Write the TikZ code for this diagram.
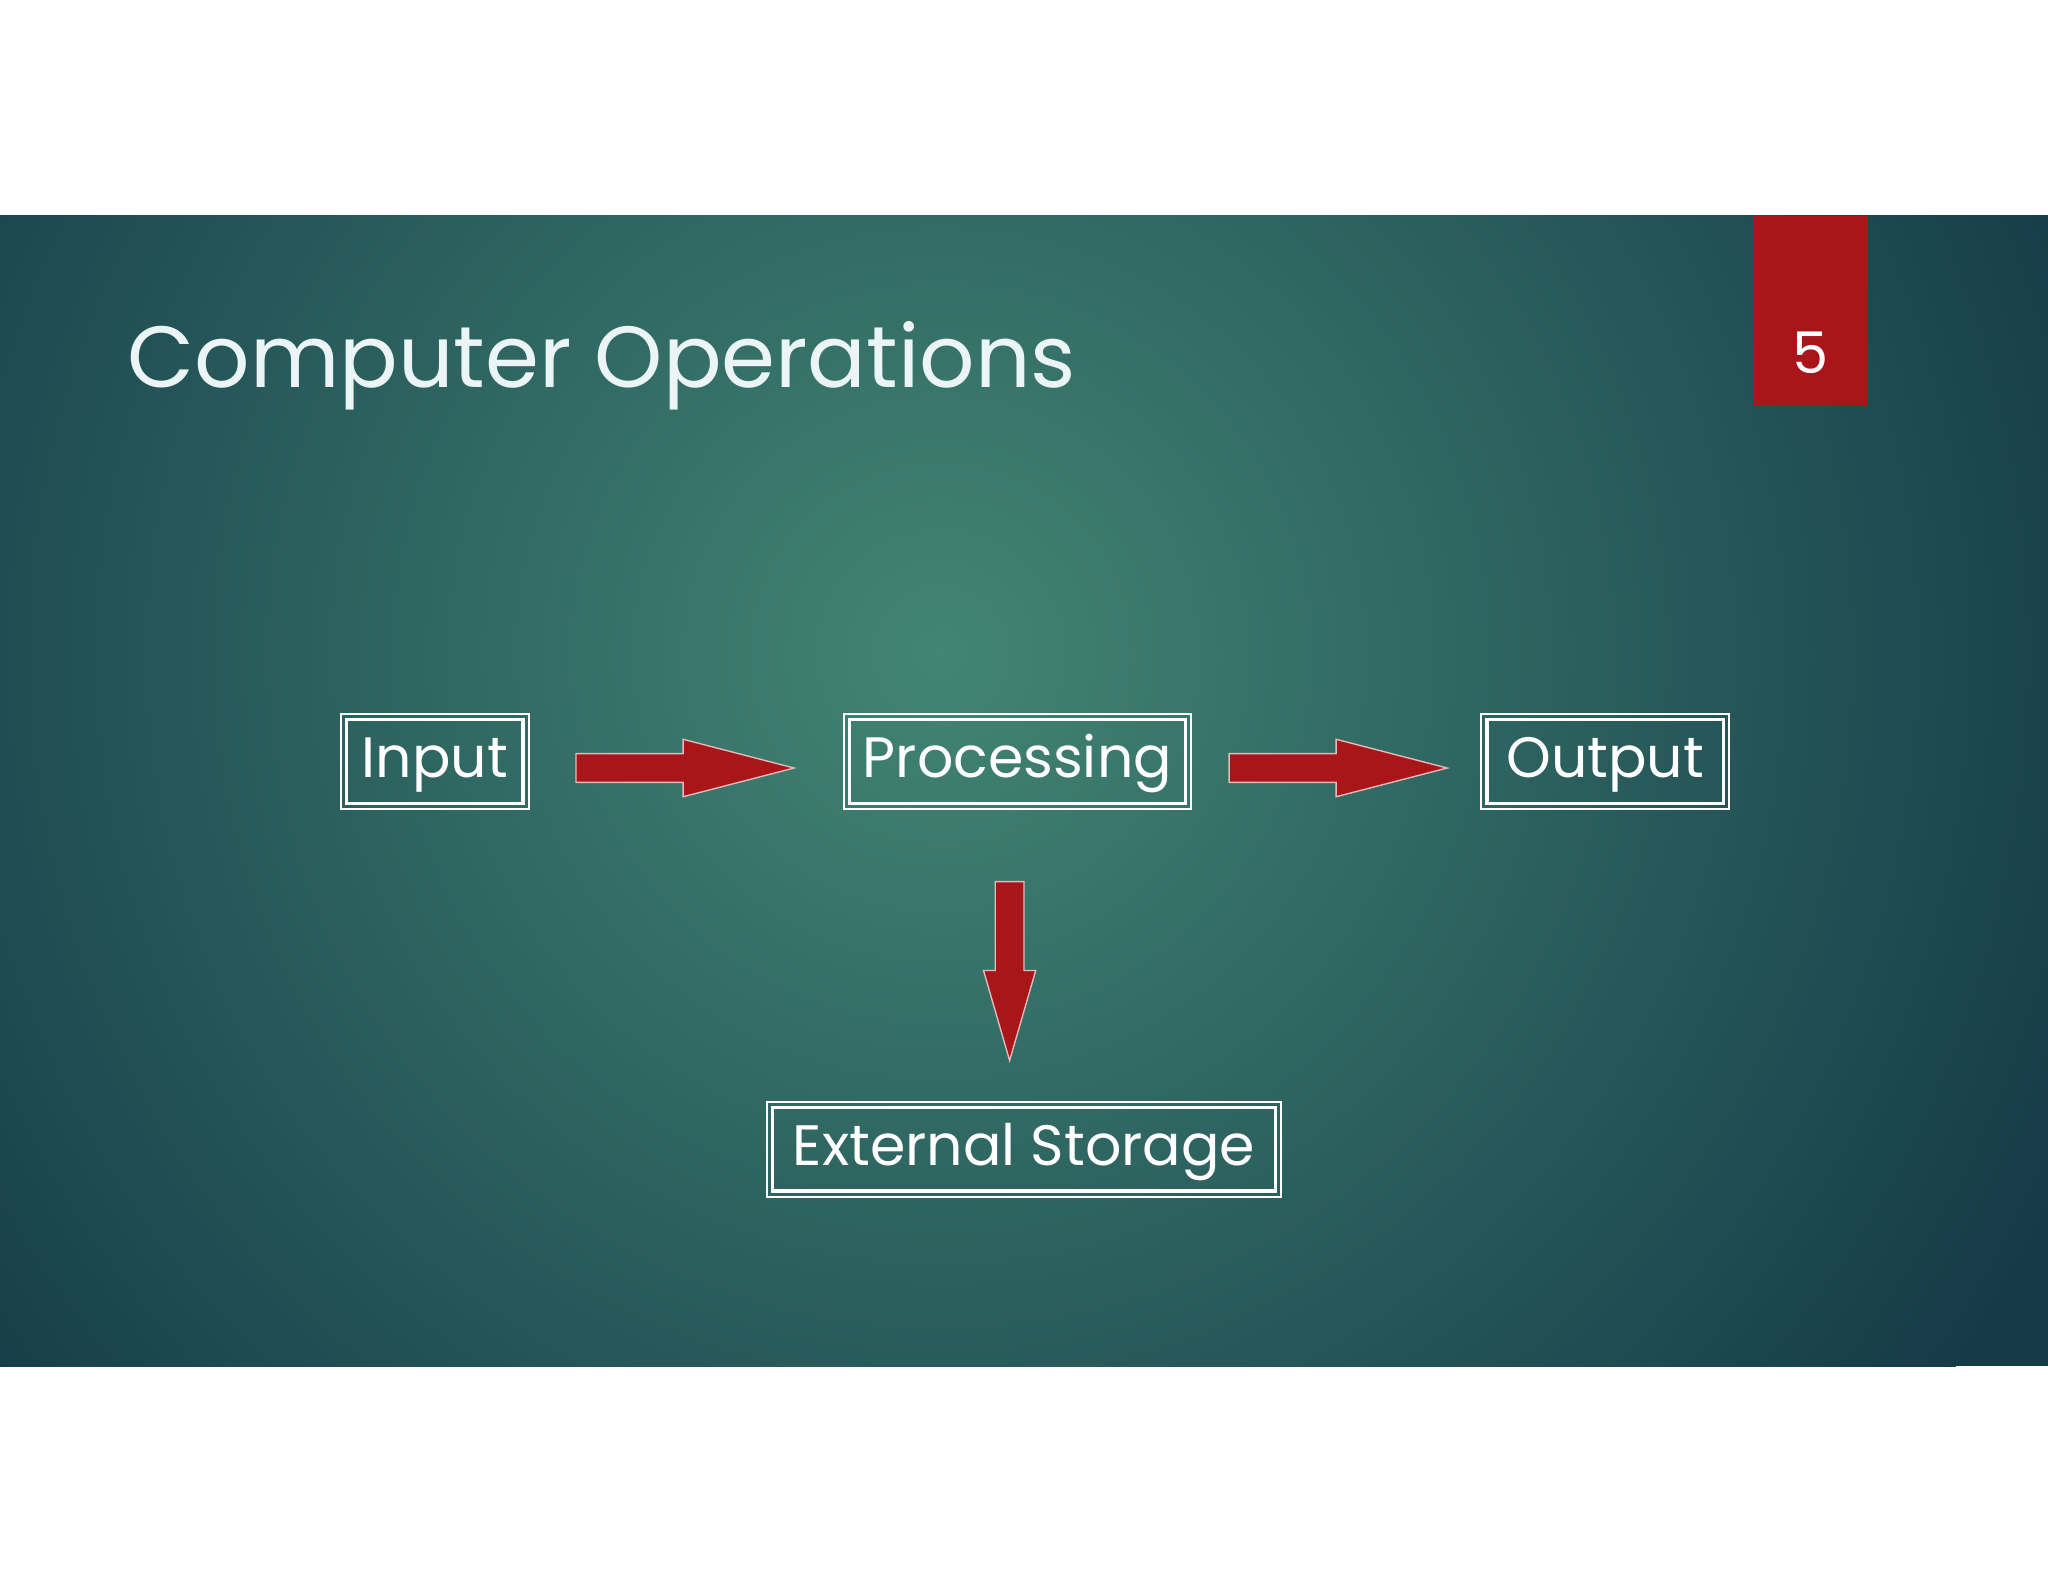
\documentclass[tikz,border=0pt]{standalone}
\usepackage{fontspec}
\setmainfont{Poppins}
\definecolor{tealin}{HTML}{428574}
\definecolor{tealout}{HTML}{153B48}
\definecolor{slidered}{HTML}{A8161A}
\begin{document}
\begin{tikzpicture}[x=0.01cm,y=-0.01cm,
  box/.style={draw=white, line width=0.5pt, text=white, inner xsep=4pt, inner ysep=0pt,
    font=\fontsize{12.4}{15}\selectfont, minimum height=73*0.01cm, text height=1.55ex, text depth=0.3ex,
    append after command={\pgfextra{\draw[white,line width=0.8pt]
      ([shift={(1.5pt,1.5pt)}]\tikzlastnode.south west) rectangle
      ([shift={(-1.5pt,-1.5pt)}]\tikzlastnode.north east);}}},
  blockarrow/.style={fill=slidered, draw=white!70!slidered, line width=0.3pt}]
\useasboundingbox (0,0) rectangle (1568,1211);
\fill[white] (0,0) rectangle (1568,1211);
\begin{scope}
  \clip (0,165) rectangle (1568,1046);
  \fill[tealout] (0,165) rectangle (1568,1046);
  \shade[inner color=tealin, outer color=tealout] (720,500) circle (950);
\end{scope}
\fill[slidered] (1343,165) rectangle (1430,311);
\node[text=white, font=\fontsize{12.5}{14}\selectfont] (num) at (1386,270) {5};
\node[anchor=base west, text=white!92!teal, inner sep=0pt, font=\fontsize{18.9}{22}\selectfont] (title) at (97,297) {Computer Operations};
\node[box, minimum width=144*0.01cm] (in) at (333,583) {Input};
\node[box, minimum width=266*0.01cm] (proc) at (779,583) {Processing};
\node[box, minimum width=190*0.01cm] (out) at (1229,583) {Output};
\node[box, minimum width=394*0.01cm] (ext) at (784,880) {External Storage};
\draw[blockarrow] (441,577) -- (523,577) -- (523,566) -- (608,588) -- (523,610) -- (523,599) -- (441,599) -- cycle;
\draw[blockarrow] (941,577) -- (1023,577) -- (1023,566) -- (1108,588) -- (1023,610) -- (1023,599) -- (941,599) -- cycle;
\draw[blockarrow] (762,675) -- (784,675) -- (784,743) -- (793,743) -- (773,812) -- (753,743) -- (762,743) -- cycle;
\end{tikzpicture}
\end{document}
